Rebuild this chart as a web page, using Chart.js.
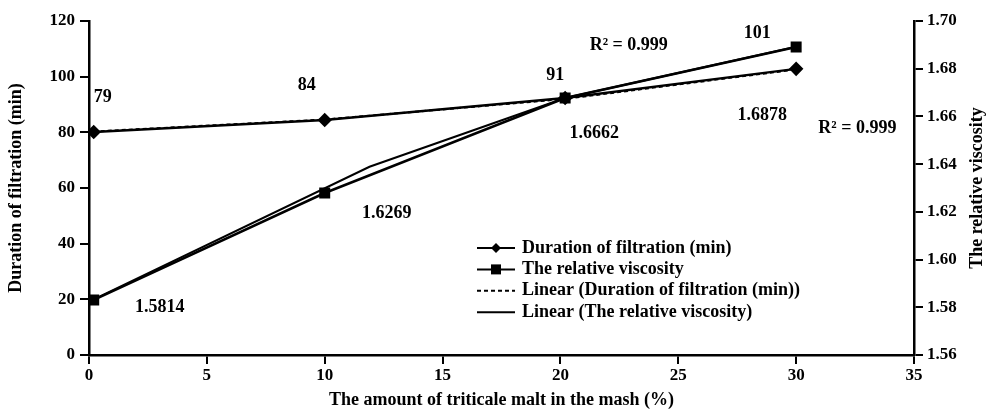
<!DOCTYPE html>
<html>
<head>
<meta charset="utf-8">
<script src="https://cdn.jsdelivr.net/npm/chart.js@4/dist/chart.umd.min.js"></script>
<style>
  html, body { margin: 0; padding: 0; background: #fff; }
  #wrap { width: 990px; height: 415px; position: relative; }
</style>
</head>
<body>
<div id="wrap"><canvas id="chart"></canvas></div>
<script>
// x positions of the samples (% triticale malt)
const maltX = [0.2, 10, 20.2, 30];
// duration of filtration (min), as plotted on the left axis
const durationY = [80.1, 84.4, 92.3, 102.8];
const durationLabels = ['79', '84', '91', '101'];
// relative viscosity, as plotted on the right axis
const viscosityY = [1.5831, 1.6279, 1.6677, 1.6891];
const viscosityLabels = ['1.5814', '1.6269', '1.6662', '1.6878'];
// trend lines
const trendDurX = [0.2, 10, 20.2, 30];
const trendDurY = [80.3, 84.6, 92.0, 102.6];
const trendViscX = [0.2, 11.9, 20.2, 30];
const trendViscY = [1.5833, 1.6389, 1.6677, 1.6892];
const rSquared = ['R\u00B2 = 0.999', 'R\u00B2 = 0.999'];

const FONT = '"Liberation Serif", "DejaVu Serif", serif';

function pts(xs, ys) {
    return xs.map((x, i) => ({ x: x, y: ys[i] }));
}

// value labels, R² notes, right title and the legend box drawn on the canvas
const annotations = {
    id: 'annotations',
    afterDatasetsDraw(chart) {
        const ctx = chart.ctx;
        const xs = chart.scales.x, yl = chart.scales.yL, yr = chart.scales.yR;
        const area = chart.chartArea;
        ctx.save();
        ctx.fillStyle = '#000';
        ctx.font = 'bold 18px ' + FONT;
        ctx.textAlign = 'center';
        ctx.textBaseline = 'middle';

        const durOff = [[9, -35], [-18, -35], [-10, -23], [-39, -36]];
        durationLabels.forEach((t, i) => {
            const px = xs.getPixelForValue(maltX[i]);
            const py = yl.getPixelForValue(durationY[i]);
            ctx.fillText(t, px + durOff[i][0], py + durOff[i][1]);
        });
        const visOff = [[66, 7], [62, 20], [29, 35], [-34, 68]];
        viscosityLabels.forEach((t, i) => {
            const px = xs.getPixelForValue(maltX[i]);
            const py = yr.getPixelForValue(viscosityY[i]);
            ctx.fillText(t, px + visOff[i][0], py + visOff[i][1]);
        });

        // R² notes
        ctx.fillText(rSquared[0], xs.getPixelForValue(22.9), yl.getPixelForValue(111.4));
        ctx.fillText(rSquared[1], xs.getPixelForValue(32.6), yl.getPixelForValue(81.5));

        // right axis title, reading bottom to top
        ctx.save();
        ctx.translate(977, (area.top + area.bottom) / 2);
        ctx.rotate(-Math.PI / 2);
        ctx.fillText('The relative viscosity', 0, 0);
        ctx.restore();

        // legend
        const lx = area.left + 388, ly = area.top + 227, gap = 21.4;
        ctx.textAlign = 'left';
        chart.data.datasets.forEach((ds, i) => {
            const y = ly + i * gap;
            ctx.beginPath();
            ctx.lineWidth = 2;
            ctx.strokeStyle = '#000';
            ctx.setLineDash(ds.borderDash || []);
            ctx.moveTo(lx, y);
            ctx.lineTo(lx + 38, y);
            ctx.stroke();
            ctx.setLineDash([]);
            const cx = lx + 19;
            if (ds.pointStyle === 'rectRot') {
                ctx.beginPath();
                ctx.moveTo(cx, y - 5); ctx.lineTo(cx + 5, y);
                ctx.lineTo(cx, y + 5); ctx.lineTo(cx - 5, y);
                ctx.closePath(); ctx.fill();
            } else if (ds.pointStyle === 'rect' && ds.pointRadius > 0) {
                ctx.fillRect(cx - 5, y - 5, 10, 10);
            }
            ctx.fillText(ds.label, lx + 45, y);
        });
        ctx.restore();
    }
};

new Chart(document.getElementById('chart'), {
    type: 'line',
    data: {
        datasets: [
            {
                label: 'Duration of filtration (min)',
                data: pts(maltX, durationY),
                yAxisID: 'yL',
                borderColor: '#000',
                backgroundColor: '#000',
                borderWidth: 2.5,
                pointStyle: 'rectRot',
                pointRadius: 5.5,
                order: 1
            },
            {
                label: 'The relative viscosity',
                data: pts(maltX, viscosityY),
                yAxisID: 'yR',
                borderColor: '#000',
                backgroundColor: '#000',
                borderWidth: 2.5,
                pointStyle: 'rect',
                pointRadius: 6,
                order: 1
            },
            {
                label: 'Linear (Duration of filtration (min))',
                data: pts(trendDurX, trendDurY),
                yAxisID: 'yL',
                borderColor: '#000',
                borderWidth: 2,
                borderDash: [4, 3],
                pointRadius: 0,
                order: 2
            },
            {
                label: 'Linear (The relative viscosity)',
                data: pts(trendViscX, trendViscY),
                yAxisID: 'yR',
                borderColor: '#000',
                borderWidth: 2,
                pointRadius: 0,
                order: 2
            }
        ]
    },
    options: {
        responsive: true,
        maintainAspectRatio: false,
        animation: false,
        layout: { padding: { top: 21, right: 0, left: 0, bottom: 0 } },
        plugins: {
            legend: { display: false },
            tooltip: { enabled: false }
        },
        scales: {
            x: {
                type: 'linear',
                min: 0,
                max: 35,
                ticks: { stepSize: 5, color: '#000', font: { family: FONT, size: 17, weight: 'bold' }, padding: 1 },
                grid: { drawOnChartArea: false, color: '#000', tickLength: 9, lineWidth: 2 },
                border: { color: '#000', width: 2.5 },
                title: { display: true, text: 'The amount of triticale malt in the mash (%)', color: '#000',
                    font: { family: FONT, size: 18, weight: 'bold' }, padding: { top: 0, bottom: 4 } },
                afterFit(s) { s.height = 60; }
            },
            yL: {
                position: 'left',
                min: 0,
                max: 120,
                ticks: { stepSize: 20, color: '#000', font: { family: FONT, size: 17, weight: 'bold' }, padding: 5 },
                grid: { drawOnChartArea: false, color: '#000', tickLength: 9, lineWidth: 2 },
                border: { color: '#000', width: 2.5 },
                title: { display: true, text: 'Duration of filtration (min)', color: '#000',
                    font: { family: FONT, size: 18, weight: 'bold' }, padding: { top: 6, bottom: 0 } },
                afterFit(s) { s.width = 89; }
            },
            yR: {
                position: 'right',
                min: 1.56,
                max: 1.70,
                ticks: { stepSize: 0.02, color: '#000', font: { family: FONT, size: 17, weight: 'bold' }, padding: 4,
                    callback: v => v.toFixed(2) },
                grid: { drawOnChartArea: false, color: '#000', tickLength: 9, lineWidth: 2 },
                border: { color: '#000', width: 2.5 },
                title: { display: false },
                afterFit(s) { s.width = 76; }
            }
        }
    },
    plugins: [annotations]
});
</script>
</body>
</html>
